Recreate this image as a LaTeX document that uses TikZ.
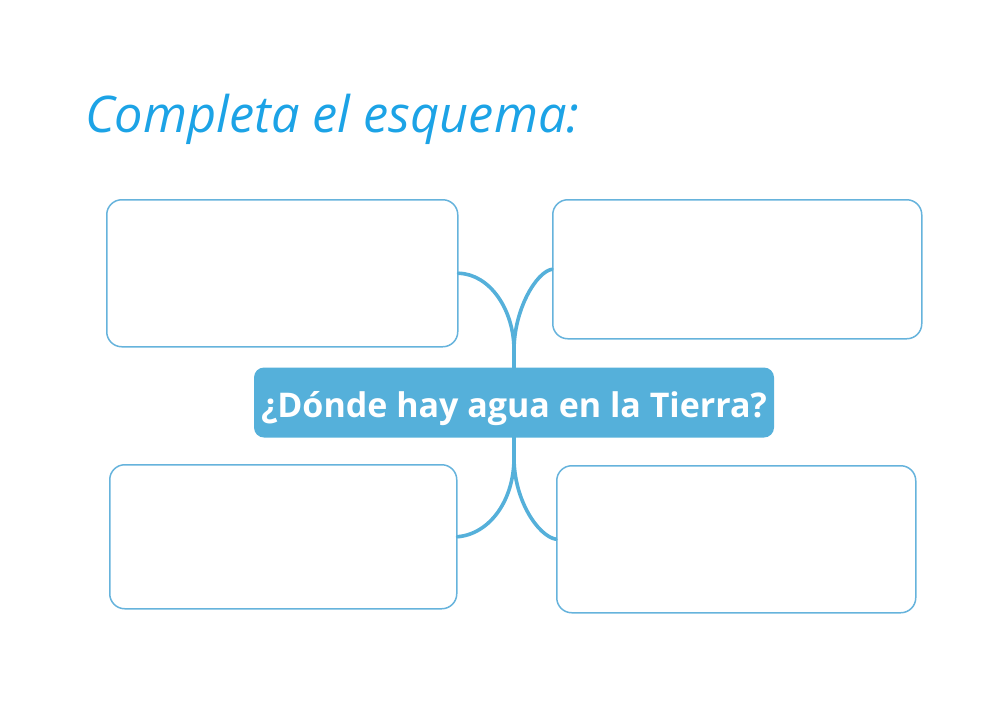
\documentclass[tikz,border=0pt]{standalone}
\usepackage{fontspec}
\setmainfont{Open Sans}
\newfontfamily\titlefont{Open Sans}
\definecolor{titleblue}{HTML}{1CA3E6}
\definecolor{nodeblue}{HTML}{55B0DA}
\definecolor{boxblue}{HTML}{66B3DC}
\tikzset{
  emptybox/.style={draw=boxblue, line width=1.5pt, rounded corners=15pt, fill=white, inner sep=0pt, anchor=north west},
  centerbox/.style={fill=nodeblue, rounded corners=10pt, inner sep=0pt, minimum width=520pt, minimum height=70pt},
  branch/.style={draw=nodeblue, line width=3.6pt, line cap=round},
}
\begin{document}
\begin{tikzpicture}[x=1pt,y=-1pt]
\useasboundingbox (0,0) rectangle (1000,707);
\node[anchor=base west, text=titleblue, inner sep=0pt, font=\titlefont\itshape\fontsize{50.5}{58}\selectfont] (title) at (85,132) {Completa el esquema:};
\node[emptybox, minimum width=351pt, minimum height=147pt] (tl) at (106,199) {};
\node[emptybox, minimum width=369pt, minimum height=139pt] (tr) at (552,199) {};
\node[emptybox, minimum width=347pt, minimum height=144pt] (bl) at (109,464) {};
\node[emptybox, minimum width=359pt, minimum height=147pt] (br) at (556,465) {};
\coordinate (up) at (514,350);
\coordinate (down) at (514,458);
\draw[branch] (tl.east) .. controls (490,274) and (514,310) .. (up);
\draw[branch] (tr.west) .. controls (536,272) and (514,310) .. (up);
\draw[branch] (bl.east) .. controls (490,534) and (514,500) .. (down);
\draw[branch] (br.west) .. controls (538,536) and (514,500) .. (down);
\node[centerbox] (c) at (514,402.5) {};
\draw[branch] (up) -- (c.north);
\draw[branch] (down) -- (c.south);
\node[anchor=base, text=white, inner sep=0pt, font=\fontsize{34}{40}\selectfont\bfseries] (ct) at (514,417) {¿Dónde hay agua en la Tierra?};
\end{tikzpicture}
\end{document}
